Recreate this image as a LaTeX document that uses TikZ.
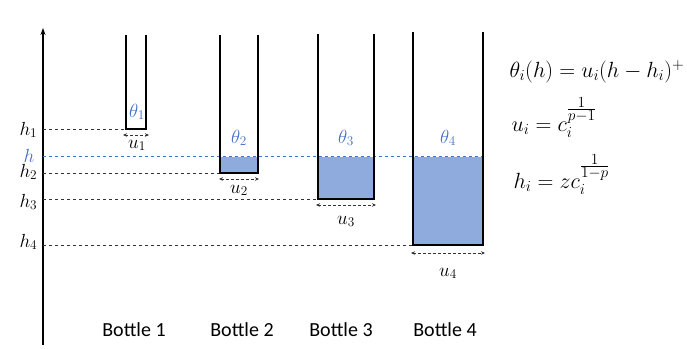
\RequirePackage{fix-cm}
\documentclass[tikz,border=0pt]{standalone}
\usepackage{amsmath,amssymb}
\usepackage{fontspec}
\newfontfamily\bottlefont{Carlito}
\usepackage{tikz}
\usetikzlibrary{arrows.meta,positioning}
\definecolor{lvlblue}{HTML}{4472C4}
\definecolor{waterblue}{HTML}{8FAADC}

\begin{document}
\begin{tikzpicture}[x=1pt, y=-1pt,
  wall/.style={draw, line width=1.8pt, line join=miter},
  water/.style={fill=waterblue},
  guide/.style={dashed, gray!40!black, line width=0.9pt},
  level/.style={dashed, lvlblue, line width=0.9pt},
  span/.style={<->, >={Stealth[length=4pt,width=3.5pt]}, densely dashed, gray!40!black, line width=0.8pt},
  axis/.style={->, >={Stealth[length=7pt,width=5pt]}, line width=1.3pt},
  hlabel/.style={anchor=base west, font=\fontsize{19}{22}\selectfont},
  thlabel/.style={anchor=base, text=lvlblue, font=\fontsize{19}{22}\selectfont},
  ulabel/.style={anchor=base, font=\fontsize{19}{22}\selectfont},
  bottlename/.style={anchor=base, font=\fontsize{20}{24}\bottlefont},
  eq/.style={anchor=base west, font=\fontsize{22}{26}\selectfont}
]
\useasboundingbox (0,0) rectangle (687,348);
% vertical axis
\coordinate (axbot) at (43,345);
\coordinate (axtop) at (43,28);
\draw[axis] (axbot) -- (axtop);

% bottle corners
\coordinate (b1tl) at (126,35);  \coordinate (b1bl) at (126,129);
\coordinate (b1tr) at (146,35);  \coordinate (b1br) at (146,129);
\coordinate (b2tl) at (220,35);  \coordinate (b2bl) at (220,173);
\coordinate (b2tr) at (258,35);  \coordinate (b2br) at (258,173);
\coordinate (b3tl) at (318,34);  \coordinate (b3bl) at (318,199);
\coordinate (b3tr) at (374,34);  \coordinate (b3br) at (374,199);
\coordinate (b4tl) at (413,32);  \coordinate (b4bl) at (413,245);
\coordinate (b4tr) at (483,32);  \coordinate (b4br) at (483,245);
\coordinate (lvl) at (0,156.5);

% water
\fill[water] (b2bl) rectangle (b2tr |- lvl);
\fill[water] (b3bl) rectangle (b3tr |- lvl);
\fill[water] (b4bl) rectangle (b4tr |- lvl);

% levels
\draw[guide] (b1bl -| axbot) -- (b1bl);
\draw[guide] (b2bl -| axbot) -- (b2bl);
\draw[guide] (b3bl -| axbot) -- (b3bl);
\draw[guide] (b4bl -| axbot) -- (b4bl);
\draw[level] (lvl -| axbot) -- (lvl -| b4tr);

% bottles
\draw[wall] (b1tl) -- (b1bl) -- (b1br) -- (b1tr);
\draw[wall] (b2tl) -- (b2bl) -- (b2br) -- (b2tr);
\draw[wall] (b3tl) -- (b3bl) -- (b3br) -- (b3tr);
\draw[wall] (b4tl) -- (b4bl) -- (b4br) -- (b4tr);

% widths
\draw[span] ([xshift=-3pt,yshift=-6pt]b1bl) -- ([xshift=3pt,yshift=-6pt]b1br);
\draw[span] ([xshift=-1pt,yshift=-6pt]b2bl) -- ([xshift=1pt,yshift=-6pt]b2br);
\draw[span] ([xshift=-2pt,yshift=-6pt]b3bl) -- ([xshift=2pt,yshift=-6pt]b3br);
\draw[span] ([xshift=-2pt,yshift=-8pt]b4bl) -- ([xshift=2pt,yshift=-8pt]b4br);

% level labels
\node[hlabel] (h1) at (16,135) {$h_1$};
\node[hlabel, text=lvlblue] (h) at (20,162) {$h$};
\node[hlabel] (h2) at (16,177) {$h_2$};
\node[hlabel] (h3) at (16,207) {$h_3$};
\node[hlabel] (h4) at (16,247) {$h_4$};

% bottle labels
\node[thlabel] (th1) at (137,117) {$\theta_1$};
\node[thlabel] (th2) at (239,143) {$\theta_2$};
\node[thlabel] (th3) at (346,143) {$\theta_3$};
\node[thlabel] (th4) at (448,143) {$\theta_4$};
\node[ulabel] (u1) at (137,148) {$u_1$};
\node[ulabel] (u2) at (239,193) {$u_2$};
\node[ulabel] (u3) at (346,224) {$u_3$};
\node[ulabel] (u4) at (448,276) {$u_4$};
\node[bottlename] (n1) at (134,336) {Bottle 1};
\node[bottlename] (n2) at (242,336) {Bottle 2};
\node[bottlename] (n3) at (341,336) {Bottle 3};
\node[bottlename] (n4) at (445,336) {Bottle 4};

% formulas
\node[eq] (eq1) at (506,77) {$\theta_i(h)=u_i(h-h_i)^+$};
\node[eq] (eq2) at (508,131) {$u_i=c_i^{\frac{\scriptstyle 1}{\scriptstyle p-1}}$};
\node[eq] (eq3) at (510,188) {$h_i=zc_i^{\frac{\scriptstyle 1}{\scriptstyle 1-p}}$};
\end{tikzpicture}
\end{document}
